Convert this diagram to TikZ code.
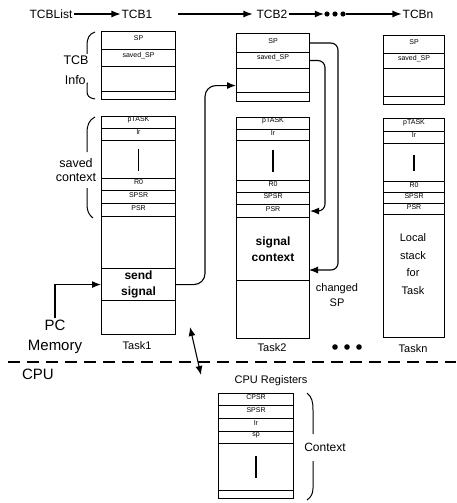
\documentclass[tikz,border=0pt]{standalone}
\usepackage{fontspec}
\setmainfont{Liberation Sans}
\usetikzlibrary{arrows.meta}
\begin{document}
\begin{tikzpicture}[x=1pt,y=-1pt,
  cell/.style={draw, line width=1.1pt, inner sep=0pt, anchor=north west, font=\fontsize{7}{7.5}\selectfont},
  lbl/.style={inner sep=1pt, font=\fontsize{12}{13}\selectfont},
  biglbl/.style={inner sep=1pt, font=\fontsize{15}{16}\selectfont},
  sidelbl/.style={inner sep=0pt, font=\fontsize{12.5}{13}\selectfont},
  tasklbl/.style={inner sep=0pt, font=\fontsize{11}{12}\selectfont},
  boldlbl/.style={align=center, font=\bfseries\fontsize{12}{16}\selectfont},
  arr/.style={-{Latex[length=9pt,width=7pt]}, line width=1.1pt},
  dbl/.style={{Latex[length=9pt,width=7pt]}-{Latex[length=9pt,width=7pt]}, line width=1.1pt},
  brc/.style={line width=1.0pt},
  bar/.style={line width=1.3pt},
  divider/.style={line width=1.7pt, dash pattern=on 12pt off 7pt}]
\useasboundingbox (0,0) rectangle (456,503);

% ---------- top list ----------
\node[lbl] (tcblist) at (51,14) {TCBList};
\node[lbl] (tcb1) at (137,14) {TCB1};
\node[lbl] (tcb2) at (272,14) {TCB2};
\node[lbl] (tcbn) at (418,14) {TCBn};
\node[inner sep=0pt, minimum width=22pt, minimum height=6pt] (dots1) at (335,14) {};
\foreach \dx in {-8,0,8} \fill ([xshift=\dx pt]dots1.center) circle (2.6pt);
\draw[arr] (tcblist) -- (tcb1);
\coordinate (a1s) at (178,14);
\draw[arr] (a1s) -- ([xshift=-3pt]tcb2.west);
\draw[arr] (tcb2) -- (dots1);
\draw[arr] (dots1) -- (tcbn);

% ---------- column 1 ----------
\foreach \nm/\tp/\ht/\lb in {t1sp/31/18/SP, t1ssp/49/17/{saved\_SP}, t1e/66/25/{}, t1b/91/8/{},
  s1p/116/12/pTASK, s1lr/128/12/lr, s1m/140/38/{}, s1r0/178/12/R0, s1spsr/190/13/SPSR,
  s1psr/203/13/PSR, s1e/216/52/{}, s1sig/268/32/{}, s1b/300/34/{}}
  \node[cell, minimum width=74pt, minimum height=\ht pt] (\nm) at (101,\tp) {\lb};
\node[boldlbl] (sendtxt) at (s1sig.center) {send\\signal};
\draw[bar] ([yshift=11pt]s1m.center) -- ([yshift=-11pt]s1m.center);
\node[tasklbl] (task1) at (137,346) {Task1};

% ---------- column 2 ----------
\foreach \nm/\tp/\ht/\lb in {t2sp/33/19/SP, t2ssp/52/16/{saved\_SP}, t2e/68/24/{}, t2b/92/9/{},
  s2p/117/12/pTASK, s2lr/129/11/lr, s2m/140/40/{}, s2r0/180/12/R0, s2spsr/192/12/SPSR,
  s2psr/204/13/PSR, s2sig/217/63/{}, s2b/280/58/{}}
  \node[cell, minimum width=73pt, minimum height=\ht pt] (\nm) at (236,\tp) {\lb};
\node[boldlbl] (sigtxt) at (s2sig.center) {signal\\context};
\draw[bar] ([yshift=11pt]s2m.center) -- ([yshift=-11pt]s2m.center);
\node[tasklbl] (task2) at (272,348) {Task2};

% ---------- column n ----------
\foreach \nm/\tp/\ht/\lb in {t3sp/35/18/SP, t3ssp/53/15/{saved\_SP}, t3e/68/28/{}, t3b/96/8/{},
  s3p/118/13/pTASK, s3lr/131/12/lr, s3m/143/38/{}, s3r0/181/11/R0, s3spsr/192/11/SPSR,
  s3psr/203/11/PSR, s3loc/214/123/{}}
  \node[cell, minimum width=61pt, minimum height=\ht pt] (\nm) at (383,\tp) {\lb};
\node[align=center, font=\fontsize{11}{17.5}\selectfont] (loctxt) at (413,264) {Local\\stack\\for\\Task};
\draw[bar] ([yshift=8pt]s3m.center) -- ([yshift=-8pt]s3m.center);
\node[tasklbl] (taskn) at (413,349) {Taskn};
\node[inner sep=0pt, minimum width=30pt, minimum height=6pt] (dots2) at (347,347) {};
\foreach \dx in {-12,0,12} \fill ([xshift=\dx pt]dots2.center) circle (2.8pt);

% ---------- left labels and braces ----------
\node[sidelbl] (tcbl) at (76,60) {TCB};
\node[sidelbl] (infol) at (77,80) {Info.};
\draw[brc] (95,32) .. controls (89,34) and (87,38) .. (87,46) -- (87,54);
\draw[brc] (87,84) -- (87,91) .. controls (87,96) and (89,98) .. (95,99);
\node[sidelbl] (savedl) at (76,163) {saved};
\node[sidelbl] (ctxl) at (76,178) {context};
\draw[brc] (95,117) .. controls (89,120) and (87,125) .. (87,133) -- (87,152);
\draw[brc] (87,188) -- (87,205) .. controls (87,211) and (89,215) .. (93,218);

% ---------- connectors ----------
\coordinate (sigin) at (309,270);
\draw[arr, rounded corners=7pt] (t2sp.east) -| (338,250) |- (sigin);
\draw[arr, rounded corners=7pt] (t2ssp.east) -| (325,190) |- (s2psr.east);
\node[align=center, font=\fontsize{11}{15}\selectfont] (chsp) at (337,295) {changed\\SP};
\draw[arr, rounded corners=11pt] (s1sig.east) -| (205,150) |- ([yshift=-5pt]t2e.west);

\node[biglbl] (pc) at (55,325) {PC};
\draw[arr] (pc.north) |- (s1sig.west);
\node[biglbl] (memory) at (55,347) {Memory};
\node[biglbl] (cpu) at (38,374) {CPU};
\coordinate (divl) at (8,362);
\coordinate (divr) at (456,362);
\draw[divider] (divl) -- (divr);
\coordinate (dua) at (190,327);
\coordinate (dub) at (201,375);
\draw[dbl] (dua) -- (dub);

% ---------- CPU registers ----------
\node[tasklbl] (cpureg) at (271,381) {CPU Registers};
\foreach \nm/\tp/\ht/\lb in {c1/393/12/CPSR, c2/405/13/SPSR, c3/418/13/lr, c4/431/12/sp, c5/443/47/{}, c6/490/8/{}}
  \node[cell, minimum width=75pt, minimum height=\ht pt] (\nm) at (218,\tp) {\lb};
\draw[bar] ([yshift=11pt]c5.center) -- ([yshift=-11pt]c5.center);
\node[sidelbl, font=\fontsize{12}{13}\selectfont] (ctx) at (325,447) {Context};
\draw[brc] (307,393) .. controls (312,397) and (313,402) .. (313,410) -- (313,434);
\draw[brc] (313,461) -- (313,488) .. controls (313,494) and (311,497) .. (307,500);
\end{tikzpicture}
\end{document}
